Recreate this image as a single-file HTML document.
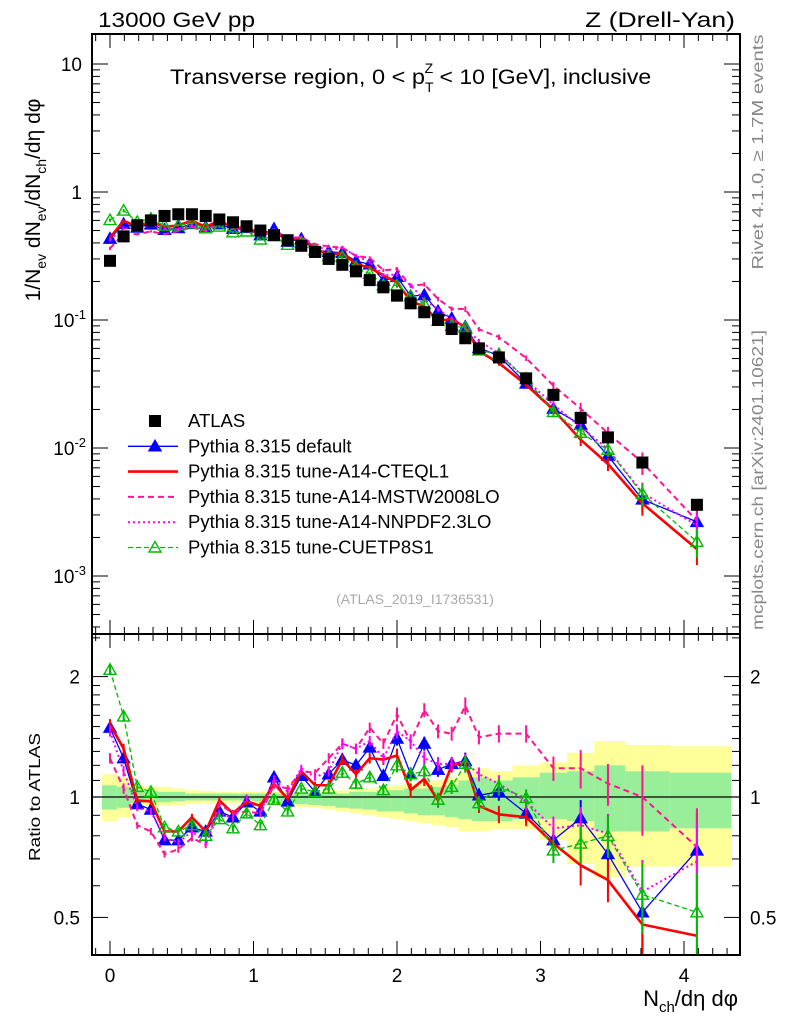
<!DOCTYPE html>
<html><head><meta charset="utf-8"><style>
body{margin:0;background:#fff}
svg{display:block;font-family:"Liberation Sans",sans-serif}
</style></head><body>
<svg id="c" width="786" height="1024" viewBox="0 0 786 1024" xmlns="http://www.w3.org/2000/svg">
<rect x="0" y="0" width="786" height="1024" fill="#fff"/>
<text x="98" y="27" font-size="21" textLength="157" lengthAdjust="spacingAndGlyphs">13000 GeV pp</text>
<text x="585" y="27" font-size="21" textLength="150" lengthAdjust="spacingAndGlyphs">Z (Drell-Yan)</text>
<text x="170" y="84" font-size="21"><tspan textLength="255" lengthAdjust="spacingAndGlyphs">Transverse region, 0 &lt; p</tspan><tspan font-size="14" dy="8">T</tspan><tspan font-size="14" dx="-9" dy="-19">Z</tspan><tspan dy="11" textLength="218" lengthAdjust="spacingAndGlyphs"> &lt; 10 [GeV], inclusive</tspan></text>
<text transform="translate(763,152) rotate(-90)" font-size="16" fill="#888" text-anchor="middle" textLength="235" lengthAdjust="spacingAndGlyphs">Rivet 4.1.0, ≥ 1.7M events</text>
<text transform="translate(763,480) rotate(-90)" font-size="16" fill="#888" text-anchor="middle" textLength="300" lengthAdjust="spacingAndGlyphs">mcplots.cern.ch [arXiv:2401.10621]</text>
<text x="415" y="604" font-size="14" fill="#aaa" text-anchor="middle">(ATLAS_2019_I1736531)</text>
<text transform="translate(40,200) rotate(-90)" font-size="21" text-anchor="middle">1/N<tspan font-size="14" dy="6">ev</tspan><tspan dy="-6"> dN</tspan><tspan font-size="14" dy="6">ev</tspan><tspan dy="-6">/dN</tspan><tspan font-size="14" dy="6">ch</tspan><tspan dy="-6">/dη dφ</tspan></text>
<text transform="translate(40,797) rotate(-90)" font-size="16" text-anchor="middle" textLength="128" lengthAdjust="spacingAndGlyphs">Ratio to ATLAS</text>
<text x="738" y="1006" font-size="22" text-anchor="end">N<tspan font-size="15" dy="6">ch</tspan><tspan dy="-6">/dη dφ</tspan></text>
<g id="g"></g>
</svg>
<script>
const xs=[0,0.095,0.19,0.285,0.38,0.476,0.571,0.667,0.762,0.857,0.952,1.048,1.143,1.238,1.333,1.429,1.524,1.619,1.714,1.81,1.905,2.0,2.095,2.19,2.286,2.381,2.476,2.571,2.71,2.9,3.09,3.28,3.47,3.71,4.09];
const atlas=[0.29,0.45,0.55,0.6,0.65,0.67,0.67,0.65,0.61,0.58,0.54,0.5,0.46,0.42,0.38,0.34,0.30,0.27,0.24,0.205,0.18,0.155,0.135,0.115,0.10,0.085,0.072,0.06,0.051,0.035,0.026,0.0172,0.0121,0.0077,0.0036];
const rDefault=[1.49,1.25,0.96,0.93,0.78,0.78,0.84,0.82,0.92,0.89,0.97,0.92,1.12,0.975,1.13,1.03,1.14,1.24,1.2,1.33,1.13,1.4,1.14,1.36,1.17,1.21,1.23,1.01,1.03,0.91,0.78,0.885,0.72,0.515,0.735];
const rCTEQ=[1.52,1.32,0.98,0.975,0.82,0.82,0.89,0.82,0.98,0.91,0.975,0.95,1.08,0.99,1.16,1.07,1.07,1.24,1.14,1.25,1.24,1.27,1.04,1.11,0.98,1.2,1.22,0.95,0.905,0.89,0.765,0.675,0.62,0.48,0.45];
const rMSTW=[1.25,1.05,0.85,0.82,0.72,0.74,0.79,0.76,0.96,0.91,0.92,0.91,1.07,1.05,1.16,1.15,1.25,1.36,1.32,1.49,1.36,1.61,1.37,1.65,1.46,1.44,1.69,1.41,1.44,1.44,1.18,1.18,1.08,1.0,0.75];
const rNNPDF=[1.46,1.16,0.94,0.92,0.79,0.77,0.82,0.77,0.91,0.885,0.995,0.91,1.11,1.03,1.18,1.12,1.16,1.36,1.32,1.38,1.25,1.46,1.38,1.25,1.21,1.21,1.22,1.14,1.08,0.975,0.835,0.85,0.81,0.58,0.69];
const rCUETP=[2.08,1.59,1.06,1.03,0.84,0.82,0.85,0.80,0.88,0.835,0.91,0.85,0.985,0.92,1.05,1.03,1.05,1.15,1.08,1.12,1.04,1.2,1.14,1.16,0.985,1.06,1.21,0.965,1.06,0.995,0.735,0.765,0.8,0.57,0.515];
const relErr=[0.03,0.03,0.02,0.02,0.02,0.02,0.02,0.02,0.02,0.02,0.02,0.02,0.02,0.02,0.02,0.02,0.03,0.03,0.03,0.03,0.03,0.04,0.04,0.04,0.04,0.04,0.05,0.04,0.05,0.05,0.07,0.11,0.12,0.2,0.25];
const yUp=[1.14,1.12,1.07,1.06,1.06,1.05,1.04,1.035,1.03,1.03,1.03,1.03,1.03,1.03,1.03,1.03,1.04,1.04,1.05,1.05,1.06,1.07,1.08,1.09,1.1,1.12,1.15,1.18,1.16,1.2,1.22,1.29,1.38,1.35,1.34];
const yDn=[0.87,0.89,0.93,0.94,0.95,0.95,0.96,0.965,0.965,0.965,0.965,0.96,0.955,0.95,0.945,0.94,0.93,0.92,0.91,0.9,0.89,0.88,0.87,0.86,0.85,0.84,0.82,0.82,0.83,0.83,0.78,0.68,0.63,0.67,0.67];
const gUp=[1.07,1.06,1.04,1.035,1.03,1.03,1.02,1.02,1.02,1.02,1.02,1.02,1.02,1.02,1.02,1.02,1.02,1.02,1.03,1.03,1.04,1.04,1.05,1.05,1.06,1.07,1.1,1.12,1.1,1.12,1.15,1.16,1.2,1.16,1.15];
const gDn=[0.93,0.94,0.965,0.97,0.97,0.975,0.98,0.98,0.98,0.98,0.98,0.975,0.97,0.965,0.96,0.955,0.95,0.94,0.935,0.93,0.92,0.92,0.91,0.9,0.9,0.89,0.88,0.87,0.87,0.88,0.88,0.87,0.82,0.82,0.835];
const mainTicks=["10","1","10^-1","10^-2","10^-3"];

const NS="http://www.w3.org/2000/svg";
const G=document.getElementById('g');
function el(t,a,p){const e=document.createElementNS(NS,t);for(const k in a)e.setAttribute(k,a[k]);(p||G).appendChild(e);return e;}
const L=92,R=740,T=34,MB=634,RB=955;
const X=v=>110+v*143.5;
const Ym=v=>192-Math.log10(v)*128;
const Yr=v=>797-Math.log10(v)*400;
const edges=[];for(let i=0;i<=xs.length;i++){if(i==0)edges.push(X(xs[0])-8);else if(i==xs.length)edges.push(731);else edges.push((X(xs[i-1])+X(xs[i]))/2);}
const bandG=el('g',{});


for(let i=0;i<xs.length;i++){
 const r1=el('rect',{x:edges[i],y:Yr(yUp[i]),width:edges[i+1]-edges[i]+0.5,height:Yr(yDn[i])-Yr(yUp[i]),fill:'#ffff99'},bandG);
 
 
 const r2=el('rect',{x:edges[i],y:Yr(gUp[i]),width:edges[i+1]-edges[i]+0.5,height:Yr(gDn[i])-Yr(gUp[i]),fill:'#99ee99'},bandG);
 
 
}
const one=el('line',{x1:L,x2:R,y1:Yr(1),y2:Yr(1),stroke:'#000','stroke-width':1.2});


const defs=el('defs',{});
const cm=el('clipPath',{id:'cm'},defs);el('rect',{x:L,y:T,width:R-L,height:MB-T},cm);
const cr=el('clipPath',{id:'cr'},defs);el('rect',{x:L,y:MB,width:R-L,height:RB-MB},cr);
const series=[
 {name:'default',r:rDefault,c:'#0000ff',w:1.3,d:'',m:'tri'},
 {name:'cteql1',r:rCTEQ,c:'#ff0000',w:2.6,d:'',m:'none'},
 {name:'mstw',r:rMSTW,c:'#ff1493',w:2,d:'6,4',m:'none'},
 {name:'nnpdf',r:rNNPDF,c:'#ff00ff',w:2,d:'2,3',m:'none'},
 {name:'cuetp8s1',r:rCUETP,c:'#00bb00',w:1.3,d:'5,3',m:'otri'}
];
function tri(g,x,y,c,fill){const s=6;const p=el('polygon',{points:`${x},${y-s} ${x-s},${y+s*0.75} ${x+s},${y+s*0.75}`,fill:fill?c:'#fff','fill-opacity':fill?1:0,stroke:c,'stroke-width':1.4},g);}
function draw(panel){
 const Y=panel=='main'?Ym:Yr;
 const gp=el('g',{'clip-path':panel=='main'?'url(#cm)':'url(#cr)'});
 
 
 for(const s of series){
  const g=el('g',{},gp);
  
  
  const vals=xs.map((x,i)=>panel=='main'?atlas[i]*s.r[i]:s.r[i]);
  const pts=xs.map((x,i)=>X(x)+','+Y(vals[i])).join(' ');
  const pl=el('polyline',{points:pts,fill:'none',stroke:s.c,'stroke-width':s.w,'stroke-dasharray':s.d},g);
  
  
  xs.forEach((x,i)=>{const v=vals[i],e=relErr[i];
   const b=el('line',{x1:X(x),x2:X(x),y1:Y(v*(1+e)),y2:Y(v*(1-e)),stroke:s.c,'stroke-width':2},g);
   
   
   if(s.m=='tri')tri(g,X(x),Y(v),s.c,true);
   if(s.m=='otri')tri(g,X(x),Y(v),s.c,false);
  });
 }
 if(panel=='main'){
  const g=el('g',{},gp);
  
  
  xs.forEach((x,i)=>{const r=el('rect',{x:X(x)-6,y:Ym(atlas[i])-6,width:12,height:12,fill:'#000'},g);
   
   });
 }
}
draw('main');draw('ratio');
for(const [t,b] of [[T,MB],[MB,RB]]){const f=el('rect',{x:L,y:t,width:R-L,height:b-t,fill:'none',stroke:'#000','stroke-width':2});
 }
for(let k=-1;k<=44;k++){const v=k/10;const x=X(v);if(x<L||x>R)continue;const maj=k%10==0;const len=maj?14:7;
 for(const [t,b] of [[T,MB],[MB,RB]]){el('line',{x1:x,x2:x,y1:b,y2:b-len,stroke:'#000','stroke-width':1});el('line',{x1:x,x2:x,y1:t,y2:t+len,stroke:'#000','stroke-width':1});}
 if(maj){const tl=el('text',{x:x,y:982,'font-size':19,'text-anchor':'middle'});tl.textContent=String(k/10);
  }}
for(let d=-4;d<=1;d++){for(let m=1;m<10;m++){const v=m*Math.pow(10,d);const y=Ym(v);if(y<T||y>MB)continue;const len=m==1?16:8;
 el('line',{x1:L,x2:L+len,y1:y,y2:y,stroke:'#000'});el('line',{x1:R,x2:R-len,y1:y,y2:y,stroke:'#000'});}}
mainTicks.forEach((lab,i)=>{const y=Ym(Math.pow(10,1-i));const t=el('text',{x:82,y:y+7,'font-size':19,'text-anchor':'end'});
 
 if(lab.indexOf('^')>0){const p=lab.split('^');t.textContent=p[0];const s=el('tspan',{'font-size':13,dy:-8},t);s.textContent=p[1];t.setAttribute('x',86);}
 else t.textContent=lab;});
for(const v of [0.4,0.5,0.6,0.7,0.8,0.9,1,1.1,1.2,1.3,1.4,1.5,1.6,1.7,1.8,1.9,2,2.5]){const y=Yr(v);if(y<MB||y>RB)continue;const len=[0.5,1,2].includes(v)?16:8;
 el('line',{x1:L,x2:L+len,y1:y,y2:y,stroke:'#000'});el('line',{x1:R,x2:R-len,y1:y,y2:y,stroke:'#000'});}
for(const v of [2,1,0.5]){const y=Yr(v)+7;
 const a=el('text',{x:80,y:y,'font-size':19,'text-anchor':'end'});a.textContent=String(v);
 
 const b=el('text',{x:750,y:y,'font-size':19});b.textContent=String(v);
 }
const leg=[['ATLAS','#000','','sq',0],['Pythia 8.315 default','#0000ff','','tri',1.3],['Pythia 8.315 tune-A14-CTEQL1','#ff0000','','none',2.6],['Pythia 8.315 tune-A14-MSTW2008LO','#ff1493','6,4','none',2],['Pythia 8.315 tune-A14-NNPDF2.3LO','#ff00ff','2,3','none',2],['Pythia 8.315 tune-CUETP8S1','#00bb00','5,3','otri',1.3]];
const lg=el('g',{});
leg.forEach((e,i)=>{const y=421+i*25.3;const g=el('g',{},lg);
 
 if(e[3]=='sq')el('rect',{x:149,y:y-6,width:12,height:12,fill:'#000'},g);
 else el('line',{x1:128,x2:178,y1:y,y2:y,stroke:e[1],'stroke-width':e[4],'stroke-dasharray':e[2]},g);
 if(e[3]=='tri')tri(g,155,y,e[1],true);if(e[3]=='otri')tri(g,155,y,e[1],false);
 const t=el('text',{x:188,y:y+6,'font-size':18.5},g);t.textContent=e[0];});
</script>
</body></html>
